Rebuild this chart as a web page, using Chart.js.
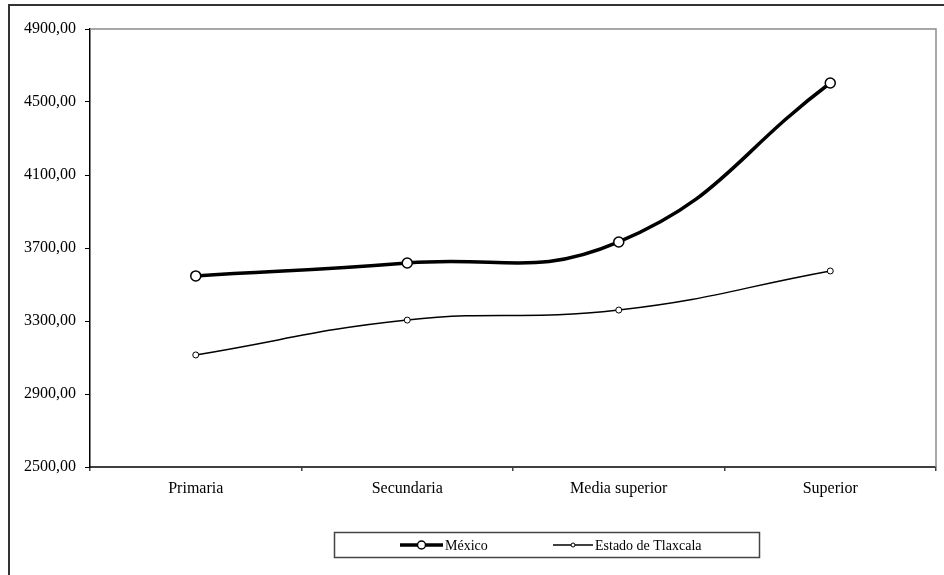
<!DOCTYPE html>
<html>
<head>
<meta charset="utf-8">
<script src="https://cdn.jsdelivr.net/npm/chart.js@4"></script>
<style>
  html, body { margin: 0; padding: 0; background: #fff; }
  #wrap { width: 944px; height: 575px; }
</style>
</head>
<body>
<div id="wrap"><canvas id="myChart" width="944" height="575"></canvas></div>
<script>
// Datos del gráfico
var categorias = ['Primaria', 'Secundaria', 'Media superior', 'Superior'];
var mexico = [3547, 3618, 3733, 4604];
var tlaxcala = [3114, 3305, 3360, 3574];
var nombres = ['México', 'Estado de Tlaxcala'];
var yMin = 2500, yMax = 4900, yPaso = 400;

var fuente = '"Liberation Serif", "Times New Roman", serif';

// Marco exterior, borde del área de trazado y leyenda
var marcoPlugin = {
    id: 'marco',
    afterDraw: function (chart) {
        var ctx = chart.ctx;
        var a = chart.chartArea;
        ctx.save();
        // borde superior y derecho del área
        ctx.strokeStyle = '#8c8c8c';
        ctx.lineWidth = 1.5;
        ctx.beginPath();
        ctx.moveTo(a.left, a.top);
        ctx.lineTo(a.right, a.top);
        ctx.lineTo(a.right, a.bottom);
        ctx.stroke();
        // marco exterior
        ctx.strokeStyle = '#333';
        ctx.lineWidth = 2;
        ctx.strokeRect(9, 5, 1000, 700);

        // leyenda
        ctx.strokeStyle = '#444';
        ctx.lineWidth = 1.5;
        ctx.strokeRect(334.5, 532.5, 425, 25);
        var items = [
            { x0: 400, x1: 443, texto: 445 },
            { x0: 553, x1: 593, texto: 595 }
        ];
        var y = 545;
        chart.data.datasets.forEach(function (ds, i) {
            var it = items[i];
            ctx.strokeStyle = ds.borderColor;
            ctx.lineWidth = ds.borderWidth;
            ctx.beginPath();
            ctx.moveTo(it.x0, y);
            ctx.lineTo(it.x1, y);
            ctx.stroke();
            ctx.beginPath();
            ctx.arc((it.x0 + it.x1) / 2, y, ds.pointRadius - 1, 0, Math.PI * 2);
            ctx.fillStyle = '#fff';
            ctx.fill();
            ctx.lineWidth = ds.pointBorderWidth;
            ctx.strokeStyle = ds.pointBorderColor;
            ctx.stroke();
            ctx.fillStyle = '#000';
            ctx.font = '14px ' + fuente;
            ctx.textBaseline = 'middle';
            ctx.textAlign = 'left';
            ctx.fillText(ds.label, it.texto, y + 1);
        });
        ctx.restore();
    }
};

var ctx = document.getElementById('myChart').getContext('2d');
var myChart = new Chart(ctx, {
    type: 'line',
    data: {
        labels: categorias,
        datasets: [{
            label: nombres[0],
            data: mexico,
            borderColor: '#000',
            borderWidth: 3.5,
            tension: 0.45,
            fill: false,
            pointRadius: 5,
            pointBorderWidth: 1.5,
            pointBorderColor: '#000',
            pointBackgroundColor: '#fff'
        }, {
            label: nombres[1],
            data: tlaxcala,
            borderColor: '#000',
            borderWidth: 1.5,
            tension: 0.45,
            fill: false,
            pointRadius: 3,
            pointBorderWidth: 1,
            pointBorderColor: '#000',
            pointBackgroundColor: '#fff'
        }]
    },
    options: {
        responsive: false,
        animation: false,
        layout: { padding: { top: 29, right: 8, left: 0, bottom: 0 } },
        plugins: {
            legend: { display: false },
            tooltip: { enabled: false }
        },
        scales: {
            x: {
                offset: true,
                afterFit: function (s) { s.height = 108; },
                grid: {
                    offset: true,
                    drawOnChartArea: false,
                    drawTicks: true,
                    tickLength: 4,
                    color: '#404040',
                    lineWidth: 1.5
                },
                border: { display: true, color: '#404040', width: 2 },
                ticks: {
                    color: '#000',
                    padding: 8,
                    font: { family: fuente, size: 16 },
                    maxRotation: 0
                }
            },
            y: {
                min: yMin,
                max: yMax,
                afterFit: function (s) { s.width = 90; },
                grid: {
                    drawOnChartArea: false,
                    drawTicks: true,
                    tickLength: 5,
                    color: '#000',
                    lineWidth: 1
                },
                border: { display: true, color: '#000', width: 1.5 },
                ticks: {
                    stepSize: yPaso,
                    color: '#000',
                    padding: 9,
                    font: { family: fuente, size: 16 },
                    callback: function (v) { return v.toFixed(2).replace('.', ','); }
                }
            }
        }
    },
    plugins: [marcoPlugin]
});
</script>
</body>
</html>
